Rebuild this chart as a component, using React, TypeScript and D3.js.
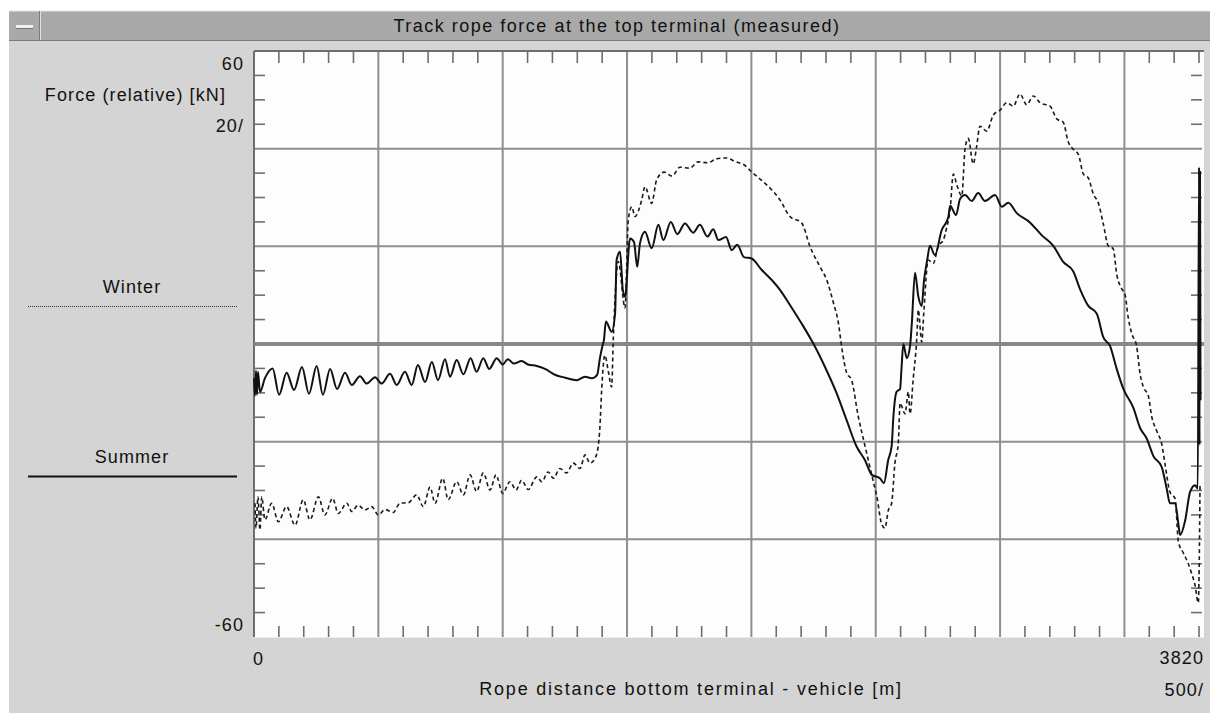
import React, { useEffect, useRef } from 'react';
import * as d3 from 'd3';

// measured values: [distance m, force kN]
const summer: [number, number][] = [
  [0, -7.0], [4, -10.6], [8, -5.5], [12, -10.4], [16, -5.7], [24, -9.8], [44, -7.0],
  [75, -5.0], [101, -10.4], [131, -5.9], [161, -9.4], [193, -4.7], [221, -10.2],
  [252, -4.5], [277, -10.4], [306, -5.1], [334, -9.2], [366, -5.9], [393, -8.4],
  [426, -6.6], [453, -8.1], [487, -6.8], [513, -8.1], [547, -6.1], [574, -8.4],
  [607, -5.7], [634, -8.4], [659, -4.3], [688, -7.8], [715, -3.7], [740, -7.4],
  [768, -3.1], [788, -6.7], [815, -3.3], [842, -6.2], [871, -2.9], [895, -5.7],
  [922, -2.9], [946, -5.1], [976, -2.9], [1000, -4.2], [1021, -3.1], [1045, -4.0],
  [1076, -3.5], [1102, -4.2], [1137, -4.5], [1170, -5.1], [1210, -6.3], [1251, -6.9],
  [1298, -7.4], [1331, -6.7], [1358, -7.0], [1380, -6.3], [1391, -2.9], [1402, -0.2],
  [1407, 0.8], [1415, 4.6], [1438, 2.5], [1452, 6.3], [1458, 17.2], [1472, 18.9],
  [1483, 11.1], [1492, 9.7], [1512, 21.6], [1528, 20.9], [1541, 15.8], [1552, 20.6],
  [1572, 23.0], [1599, 19.6], [1626, 24.4], [1646, 21.3], [1676, 25.0], [1702, 22.5],
  [1733, 24.7], [1766, 22.8], [1793, 24.4], [1823, 22.0], [1847, 23.5], [1867, 21.3],
  [1898, 21.9], [1921, 19.2], [1943, 20.3], [1970, 17.8], [2001, 17.5], [2041, 15.2],
  [2082, 13.1], [2115, 11.1], [2155, 8.0], [2202, 4.2], [2249, 0.1], [2296, -4.7],
  [2343, -10.1], [2383, -15.6], [2423, -21.0], [2457, -23.8], [2484, -26.8],
  [2517, -27.5], [2533, -28.5], [2550, -23.8], [2564, -20.9], [2571, -14.9],
  [2584, -9.8], [2598, -9.2], [2604, -4.7], [2611, 0.0], [2625, -2.9], [2638, -0.4],
  [2645, 4.1], [2658, 14.6], [2671, 9.8], [2685, 7.8], [2694, 12.9], [2707, 17.2],
  [2718, 20.1], [2738, 18.2], [2765, 23.3], [2792, 26.0], [2799, 28.3], [2823, 26.4],
  [2839, 29.7], [2859, 30.5], [2886, 29.3], [2912, 30.9], [2939, 29.3], [2980, 30.5],
  [3007, 28.1], [3033, 28.9], [3067, 26.8], [3120, 24.9], [3167, 22.3], [3214, 20.1],
  [3254, 16.8], [3294, 14.9], [3321, 11.3], [3355, 7.8], [3389, 6.2], [3415, 1.4],
  [3442, -0.4], [3469, -5.1], [3495, -9.1], [3536, -13.1], [3563, -17.2], [3590, -19.4],
  [3616, -22.9], [3650, -25.2], [3670, -29.6], [3683, -32.6], [3704, -32.6],
  [3717, -36.9], [3724, -39.1], [3744, -36.2], [3764, -30.3], [3784, -28.9],
  [3795, -29.6], [3800, 36.2], [3802, -20.7], [3804, 35.2], [3806, -11.5],
];

const winter: [number, number][] = [
  [4, -32.6], [8, -37.7], [16, -31.3], [24, -38.1], [31, -31.3], [44, -36.0],
  [71, -32.6], [98, -36.4], [131, -33.3], [165, -37.1], [198, -31.9], [225, -36.0],
  [259, -31.3], [285, -35.0], [316, -31.6], [339, -34.7], [373, -32.6], [393, -34.3],
  [419, -33.0], [446, -34.0], [473, -33.3], [500, -35.0], [527, -33.9], [560, -34.5],
  [587, -32.6], [620, -32.5], [654, -30.9], [681, -33.3], [708, -29.3], [728, -32.6],
  [759, -27.5], [781, -31.9], [815, -28.2], [842, -30.9], [869, -26.8], [895, -30.2],
  [922, -26.4], [949, -29.9], [973, -26.8], [1000, -30.6], [1029, -28.2], [1054, -29.9],
  [1076, -27.9], [1103, -29.8], [1137, -27.2], [1157, -28.2], [1183, -26.2],
  [1204, -27.5], [1230, -25.5], [1257, -26.4], [1284, -24.4], [1311, -25.5],
  [1331, -22.7], [1351, -24.4], [1371, -23.4], [1384, -21.0], [1391, -16.9],
  [1398, -9.4], [1411, -2.3], [1425, -5.7], [1438, -8.8], [1445, 1.4], [1465, 16.9],
  [1492, 7.4], [1505, 25.4], [1519, 28.1], [1532, 26.1], [1559, 29.5], [1572, 32.2],
  [1599, 28.8], [1619, 33.6], [1649, 35.2], [1681, 34.4], [1713, 36.2], [1753, 36.0],
  [1785, 37.3], [1826, 37.1], [1858, 37.9], [1898, 38.1], [1938, 37.3], [1970, 36.7],
  [2002, 35.2], [2055, 32.9], [2083, 31.5], [2115, 29.5], [2155, 26.1], [2202, 24.8],
  [2236, 19.9], [2276, 15.8], [2303, 13.1], [2330, 8.4], [2350, 4.3], [2363, -0.6],
  [2383, -5.9], [2403, -7.4], [2430, -14.9], [2457, -20.9], [2490, -28.1],
  [2504, -31.1], [2524, -36.9], [2537, -37.7], [2551, -34.0], [2564, -32.6],
  [2577, -24.5], [2591, -20.1], [2598, -12.1], [2618, -14.3], [2631, -9.8],
  [2638, -14.3], [2651, -7.0], [2665, 1.1], [2671, 7.0], [2685, 0.4], [2694, 7.0],
  [2711, 17.2], [2731, 16.5], [2752, 20.1], [2772, 21.3], [2785, 23.8], [2799, 27.4],
  [2812, 34.8], [2826, 32.6], [2846, 30.3], [2859, 39.9], [2872, 42.1], [2892, 36.9],
  [2906, 40.5], [2919, 44.6], [2946, 43.6], [2973, 46.9], [3000, 47.9], [3027, 49.4],
  [3053, 48.7], [3080, 51.2], [3107, 49.0], [3134, 50.8], [3161, 49.4], [3201, 48.7],
  [3228, 46.1], [3254, 45.4], [3274, 41.4], [3294, 39.9], [3315, 38.8], [3335, 34.8],
  [3355, 34.0], [3375, 30.7], [3395, 28.9], [3415, 24.6], [3435, 20.1], [3455, 19.5],
  [3469, 14.3], [3489, 11.3], [3502, 10.2], [3515, 5.5], [3529, 2.2], [3549, -0.4],
  [3563, -6.1], [3576, -8.8], [3596, -10.6], [3610, -14.9], [3630, -17.8],
  [3650, -20.5], [3663, -24.5], [3683, -30.3], [3704, -31.7], [3717, -40.5],
  [3737, -42.8], [3757, -45.0], [3771, -47.1], [3784, -49.4], [3797, -53.0],
  [3801, -44.2], [3804, -28.9],
];

const title = 'Track rope force at the top terminal (measured)';
const yTitle = 'Force (relative) [kN]';
const xTitle = 'Rope distance bottom terminal - vehicle [m]';
const yTickLabels = ['60', '20/', '-60'];
const xTickLabels = ['0', '3820', '500/'];
const legendNames = ['Winter', 'Summer'];

const W = 1210;
const H = 713;
const FONT = '"Liberation Sans", Arial, sans-serif';

function App() {
  const svgRef = useRef<SVGSVGElement>(null);

  useEffect(() => {
    const svg = d3.select(svgRef.current);
    svg.selectAll('*').remove();

    const left = 254, right = 1204, top = 51, bottom = 637;
    const x = d3.scaleLinear().domain([0, 3820]).range([left, right]);
    const y = d3.scaleLinear().domain([-60, 60]).range([bottom, top]);

    // window body + title bar
    svg.append('rect').attr('x', 9).attr('y', 11).attr('width', W - 9).attr('height', H - 11).attr('fill', '#d4d4d4');
    svg.append('rect').attr('x', 9).attr('y', 11).attr('width', W - 9).attr('height', 29).attr('fill', '#a9a9a9');
    svg.append('line').attr('x1', 9).attr('x2', W).attr('y1', 11).attr('y2', 11).attr('stroke', '#e4e4e4');
    svg.append('line').attr('x1', 9).attr('x2', W).attr('y1', 40.5).attr('y2', 40.5).attr('stroke', '#7c7c7c');
    svg.append('line').attr('x1', 39.5).attr('x2', 39.5).attr('y1', 11).attr('y2', 40).attr('stroke', '#7c7c7c');
    svg.append('line').attr('x1', 40.5).attr('x2', 40.5).attr('y1', 11).attr('y2', 40).attr('stroke', '#e0e0e0');
    svg.append('rect').attr('x', 16).attr('y', 25).attr('width', 17).attr('height', 3).attr('fill', '#f0f0f0');
    svg.append('line').attr('x1', 16).attr('x2', 33).attr('y1', 28.5).attr('y2', 28.5).attr('stroke', '#707070');

    svg.append('text')
      .attr('class', 'title')
      .attr('x', 617).attr('y', 26).attr('dy', '0.35em')
      .attr('text-anchor', 'middle')
      .text(title);

    // plot area
    svg.append('rect').attr('x', left).attr('y', top).attr('width', right - left).attr('height', bottom - top).attr('fill', '#fdfdfd');
    svg.append('line').attr('x1', left).attr('x2', right).attr('y1', bottom + 0.5).attr('y2', bottom + 0.5).attr('stroke', '#ececec');

    const g = svg.append('g');
    // gridlines
    g.selectAll('.vg').data(d3.range(500, 3820, 500)).enter().append('line')
      .attr('x1', d => x(d)).attr('x2', d => x(d))
      .attr('y1', top).attr('y2', bottom)
      .attr('stroke', '#8e8e8e').attr('stroke-width', 2);
    g.selectAll('.hg').data([40, 20, -20, -40]).enter().append('line')
      .attr('x1', left).attr('x2', right - 2)
      .attr('y1', d => y(d)).attr('y2', d => y(d))
      .attr('stroke', '#8e8e8e').attr('stroke-width', 2);

    // minor ticks
    const xMinor = d3.range(100, 3820, 100).filter(d => d % 500 !== 0);
    g.selectAll('.tt').data(xMinor).enter().append('line')
      .attr('x1', d => x(d)).attr('x2', d => x(d))
      .attr('y1', top).attr('y2', top + 12)
      .attr('stroke', '#6e6e6e').attr('stroke-width', 1.6);
    g.selectAll('.bt').data(xMinor).enter().append('line')
      .attr('x1', d => x(d)).attr('x2', d => x(d))
      .attr('y1', bottom).attr('y2', bottom - 11)
      .attr('stroke', '#6e6e6e').attr('stroke-width', 1.6);
    const yMinor = d3.range(-55, 60, 5).filter(d => d % 20 !== 0);
    g.selectAll('.lt').data(yMinor).enter().append('line')
      .attr('x1', left).attr('x2', left + 11)
      .attr('y1', d => y(d)).attr('y2', d => y(d))
      .attr('stroke', '#6e6e6e').attr('stroke-width', 1.6);
    g.selectAll('.rt').data(yMinor).enter().append('line')
      .attr('x1', right - 2).attr('x2', right - 13)
      .attr('y1', d => y(d)).attr('y2', d => y(d))
      .attr('stroke', '#6e6e6e').attr('stroke-width', 1.6);

    // frame top and left
    svg.append('line').attr('x1', left).attr('x2', right).attr('y1', top).attr('y2', top).attr('stroke', '#6e6e6e').attr('stroke-width', 2);
    svg.append('line').attr('x1', left).attr('x2', left).attr('y1', top).attr('y2', bottom).attr('stroke', '#6e6e6e').attr('stroke-width', 2);

    // zero line
    svg.append('line').attr('x1', left).attr('x2', right).attr('y1', y(0)).attr('y2', y(0))
      .attr('stroke', '#888').attr('stroke-width', 4);

    const line = d3.line<[number, number]>().x(d => x(d[0])).y(d => y(d[1])).curve(d3.curveMonotoneX);

    svg.append('path').datum(winter).attr('d', line)
      .attr('fill', 'none').attr('stroke', '#1a1a1a').attr('stroke-width', 1.6)
      .attr('stroke-dasharray', '4,3');
    svg.append('path').datum(summer).attr('d', line)
      .attr('fill', 'none').attr('stroke', '#111').attr('stroke-width', 2);

    // axis labels
    const lab = (tx: string, px: number, py: number, anchor: string) =>
      svg.append('text').attr('x', px).attr('y', py).attr('dy', '0.35em')
        .attr('text-anchor', anchor).text(tx);
    lab(yTickLabels[0], 244, 64, 'end');
    lab(yTitle, 226, 95, 'end');
    lab(yTickLabels[1], 244, 126, 'end');
    lab(yTickLabels[2], 244, 625, 'end');
    lab(xTickLabels[0], 253, 659, 'start');
    lab(xTickLabels[1], 1204, 658, 'end');
    lab(xTitle, 691, 689, 'middle').attr('class', 'xt');
    lab(xTickLabels[2], 1204, 690, 'end');

    // legend
    lab(legendNames[0], 132, 287, 'middle');
    svg.append('line').attr('x1', 28).attr('x2', 237).attr('y1', 306.5).attr('y2', 306.5)
      .attr('stroke', '#333').attr('stroke-width', 1).attr('stroke-dasharray', '1,1');
    lab(legendNames[1], 132, 457, 'middle');
    svg.append('line').attr('x1', 28).attr('x2', 237).attr('y1', 476.5).attr('y2', 476.5)
      .attr('stroke', '#111').attr('stroke-width', 2);

    svg.selectAll('text')
      .attr('font-family', FONT).attr('font-size', 18)
      .attr('letter-spacing', 1.1).attr('fill', '#111');
    svg.selectAll('text.title').attr('letter-spacing', 1.5);
    svg.selectAll('text.xt').attr('letter-spacing', 1.8);
  }, []);

  return (
    <svg ref={svgRef} width={W} height={H}
      style={{ position: 'absolute', left: 0, top: 0, background: '#fff' }} />
  );
}

export default App;
